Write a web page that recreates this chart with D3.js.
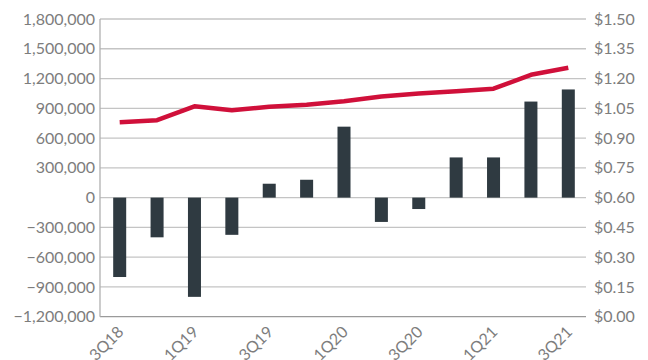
<!DOCTYPE html>
<html>
<head>
<meta charset="utf-8">
<script src="https://cdn.jsdelivr.net/npm/d3@7"></script>
<style>
  body { margin: 0; background: #fff; }
  text { font-family: Lato, "Open Sans", sans-serif; }
</style>
</head>
<body>
<div id="chart_div"></div>
<script>
// quarters on the x axis
const quarters = ["3Q18","4Q18","1Q19","2Q19","3Q19","4Q19","1Q20","2Q20","3Q20","4Q20","1Q21","2Q21","3Q21"]
// bars, left axis
const barValues = [-800000, -400000, -1000000, -375000, 140000, 180000, 715000, -245000, -115000, 405000, 405000, 968000, 1090000]
// line, right axis ($)
const lineValues = [0.98, 0.99, 1.06, 1.04, 1.058, 1.068, 1.086, 1.11, 1.125, 1.136, 1.149, 1.219, 1.254]

const leftTicks = [-1200000, -900000, -600000, -300000, 0, 300000, 600000, 900000, 1200000, 1500000, 1800000]
const rightTicks = [0, 0.15, 0.30, 0.45, 0.60, 0.75, 0.90, 1.05, 1.20, 1.35, 1.50]
const shownLabels = ["3Q18","1Q19","3Q19","1Q20","3Q20","1Q21","3Q21"]

const barColor = "#2f3a41"
const lineColor = "#d0103a"
const gridColor = "#c4c4c4"
const textColor = "#7d7d7d"

const width = 648, height = 360
const plotLeft = 100, plotRight = 586, plotTop = 19, plotBottom = 316.7

const svg = d3.select("#chart_div")
  .append("svg")
  .attr("width", width)
  .attr("height", height)

// scales
const x = d3.scaleBand()
  .domain(quarters)
  .range([plotLeft + 1, plotRight + 1])
  .paddingInner(0.652)
  .paddingOuter(0.326)

const yLeft = d3.scaleLinear()
  .domain([-1200000, 1800000])
  .range([plotBottom, plotTop])

const yRight = d3.scaleLinear()
  .domain([0, 1.5])
  .range([plotBottom, plotTop])

// gridlines
svg.append("g")
  .selectAll("line")
  .data(leftTicks)
  .join("line")
  .attr("x1", plotLeft)
  .attr("x2", plotRight)
  .attr("y1", d => yLeft(d))
  .attr("y2", d => yLeft(d))
  .attr("stroke", d => d === -1200000 ? "#9a9a9a" : gridColor)
  .attr("stroke-width", 1.3)

// left axis line
svg.append("line")
  .attr("x1", plotLeft).attr("x2", plotLeft)
  .attr("y1", plotTop).attr("y2", plotBottom)
  .attr("stroke", "#b0b0b0")
  .attr("stroke-width", 1.3)

// left axis labels
const leftAxis = svg.append("g")
  .attr("transform", `translate(${plotLeft}, 0)`)
  .call(d3.axisLeft(yLeft).tickValues(leftTicks).tickSize(0).tickPadding(5)
    .tickFormat(d => d3.format(",")(d)))
leftAxis.select(".domain").remove()
leftAxis.selectAll("text")
  .attr("fill", textColor)
  .style("font-size", "16px")
  .style("font-family", "Lato, 'Open Sans', sans-serif")

// right axis labels
const rightAxis = svg.append("g")
  .attr("transform", `translate(${plotRight}, 0)`)
  .call(d3.axisRight(yRight).tickValues(rightTicks).tickSize(0).tickPadding(8)
    .tickFormat(d => "$" + d3.format(".2f")(d)))
rightAxis.select(".domain").remove()
rightAxis.selectAll("text")
  .attr("fill", textColor)
  .style("font-size", "16px")
  .style("font-family", "Lato, 'Open Sans', sans-serif")

// bars
svg.append("g")
  .selectAll("rect")
  .data(quarters.map((q, i) => ({q: q, v: barValues[i]})))
  .join("rect")
  .attr("x", d => x(d.q))
  .attr("width", x.bandwidth())
  .attr("y", d => yLeft(Math.max(0, d.v)))
  .attr("height", d => Math.abs(yLeft(d.v) - yLeft(0)))
  .attr("fill", barColor)

// line
svg.append("path")
  .datum(quarters.map((q, i) => ({q: q, v: lineValues[i]})))
  .attr("fill", "none")
  .attr("stroke", lineColor)
  .attr("stroke-width", 4.5)
  .attr("stroke-linejoin", "round")
  .attr("d", d3.line()
    .x(d => x(d.q) + x.bandwidth() / 2)
    .y(d => yRight(d.v))
  )

// x labels (every other quarter), rotated
svg.append("g")
  .selectAll("text")
  .data(shownLabels)
  .join("text")
  .attr("transform", d => `translate(${x(d) + x.bandwidth() / 2 + 5}, 333) rotate(-45)`)
  .attr("text-anchor", "end")
  .attr("fill", textColor)
  .style("font-size", "16px")
  .text(d => d)
</script>
</body>
</html>
